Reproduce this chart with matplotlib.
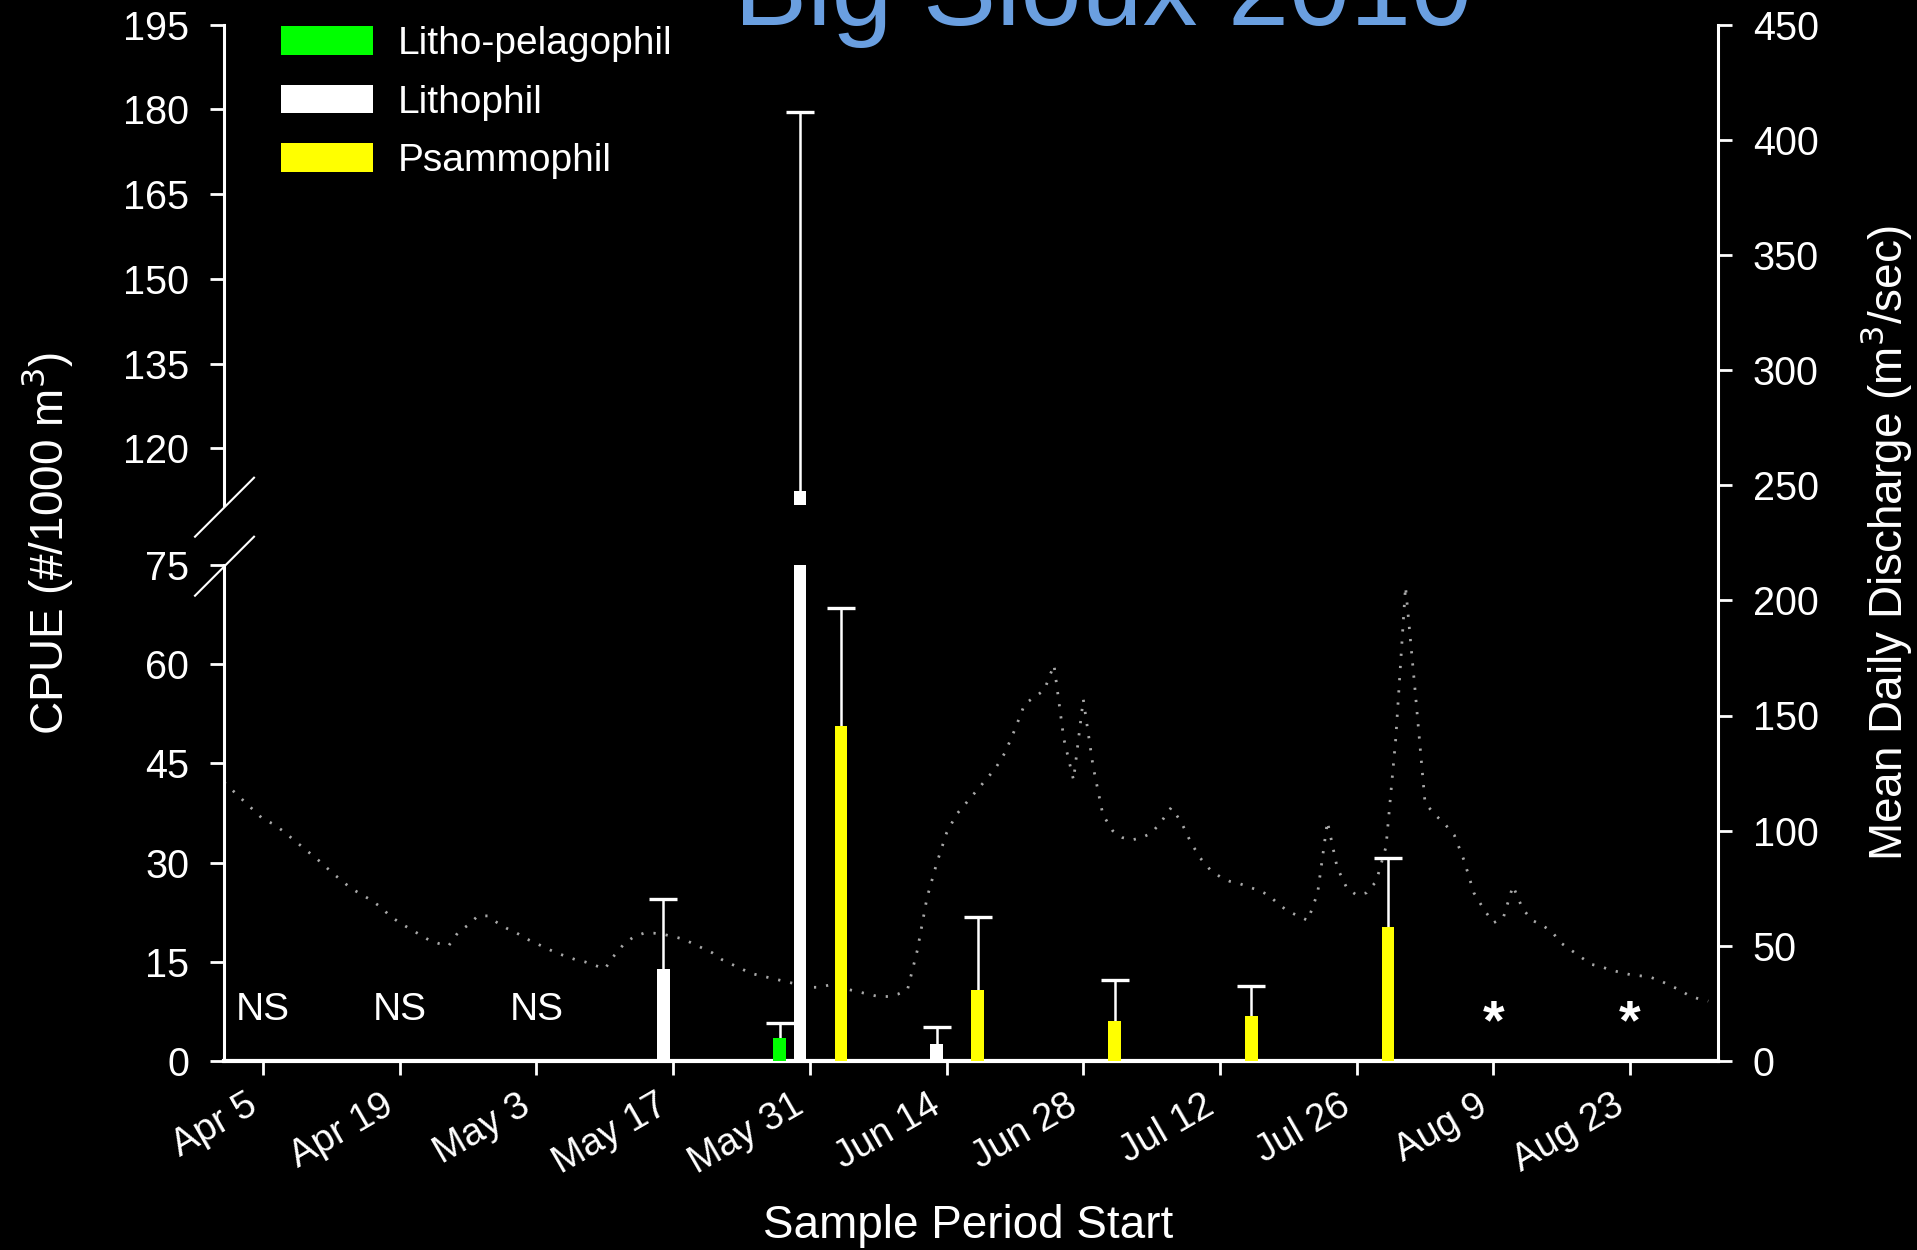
import datetime as dt

import numpy as np
import matplotlib
matplotlib.use("Agg")
import matplotlib.pyplot as plt
from matplotlib.lines import Line2D
from matplotlib.patches import Patch

plt.rcParams["font.family"] = ["Liberation Sans", "DejaVu Sans"]

# ---- data -----------------------------------------------------------------
period_starts = ["2010-04-05", "2010-04-19", "2010-05-03", "2010-05-17",
                 "2010-05-31", "2010-06-14", "2010-06-28", "2010-07-12",
                 "2010-07-26", "2010-08-09", "2010-08-23"]
period_labels = ["Apr 5", "Apr 19", "May 3", "May 17", "May 31", "Jun 14",
                 "Jun 28", "Jul 12", "Jul 26", "Aug 9", "Aug 23"]
period_notes = ["NS", "NS", "NS", "", "", "", "", "", "", "*", "*"]

guilds = ["Litho-pelagophil", "Lithophil", "Psammophil"]
guild_colors = ["#00FF00", "#FFFFFF", "#FFFF00"]
guild_offsets = [-3.1, -1.0, 3.2]          # days from period start

litho_pelagophil = [0, 0, 0, 0, 3.5, 0, 0, 0, 0, 0, 0]
litho_pelagophil_se = [0, 0, 0, 0, 2.3, 0, 0, 0, 0, 0, 0]
lithophil = [0, 0, 0, 13.9, 112.5, 2.6, 0, 0, 0, 0, 0]
lithophil_se = [0, 0, 0, 10.6, 67.0, 2.6, 0, 0, 0, 0, 0]
psammophil = [0, 0, 0, 0, 50.7, 10.7, 6.0, 6.8, 20.3, 0, 0]
psammophil_se = [0, 0, 0, 0, 17.8, 11.1, 6.2, 4.6, 10.4, 0, 0]

# mean daily discharge (m3/sec), 1 Apr - 31 Aug 2010
discharge_start = "2010-04-01"
discharge = [
    # April
    121, 117, 113, 109, 105, 103, 100, 96.5, 93, 89.5, 86, 82, 78.5, 75, 72.5,
    70, 67, 63, 60, 57.5, 55, 52.5, 51, 50, 56, 59, 63, 63, 60, 57.5,
    # May
    55.5, 53, 51, 49, 47, 45.5, 44, 43, 41.5, 40, 46, 51, 54, 55.5, 55.5,
    55, 54, 53, 51, 49, 47, 44, 42, 40, 38, 37, 36, 35, 34, 33, 32,
    # June
    32, 33, 32, 31, 30, 29, 28, 28, 29, 31, 48, 71, 86, 99, 107,
    112, 117, 122, 127, 134, 144, 155, 158, 161, 172, 140, 122, 157, 128, 107,
    # July
    100, 97, 96, 97, 99, 104, 110, 104, 95, 88, 83, 80, 78, 77, 75.5,
    74, 72, 68, 65, 63, 61, 73, 104, 84, 75, 72, 73, 78, 93, 140, 206,
    # August
    160, 112, 107, 103, 98, 87, 73, 66, 60, 62, 76, 66, 61, 59, 56,
    51, 48, 45, 42, 41, 39.5, 38.5, 37.5, 37, 36.5, 35, 33, 31, 28.5, 27, 26,
]

# ---- figure layout ----------------------------------------------------------
W, H = 1917, 1250
fig = plt.figure(figsize=(W / 100, H / 100), dpi=100, facecolor="black")


def fx(px):
    return px / W


def fy(py):
    return 1 - py / H


left, right = 224, 1718
ax_r = fig.add_axes([fx(left), fy(1061), fx(right) - fx(left), fy(24.5) - fy(1061)])
ax_bot = fig.add_axes([fx(left), fy(1061), fx(right) - fx(left), fy(565) - fy(1061)])
ax_top = fig.add_axes([fx(left), fy(505), fx(right) - fx(left), fy(24.5) - fy(505)])
ax_r.set_facecolor("black")
ax_bot.set_facecolor("none")
ax_top.set_facecolor("none")

starts = [dt.datetime.strptime(s, "%Y-%m-%d") for s in period_starts]
xmin, xmax = dt.datetime(2010, 4, 1), dt.datetime(2010, 9, 1)
for ax in (ax_r, ax_bot, ax_top):
    ax.set_xlim(xmin, xmax)

# ---- discharge line ---------------------------------------------------------
d0 = dt.datetime.strptime(discharge_start, "%Y-%m-%d")
q_dates = [d0 + dt.timedelta(days=i) for i in range(len(discharge))]
ax_r.plot(q_dates, discharge, color="#a8a8a8", lw=2.0,
          linestyle=(0, (0.8, 3.6)))
ax_r.set_ylim(0, 450)
ax_r.set_yticks(range(0, 451, 50))
ax_r.yaxis.tick_right()
ax_r.yaxis.set_label_position("right")
ax_r.set_xticks([])
for s in ("left", "top", "bottom"):
    ax_r.spines[s].set_visible(False)
ax_r.spines["right"].set_color("white")
ax_r.spines["right"].set_linewidth(2.2)
ax_r.tick_params(axis="y", colors="white", direction="out", length=10,
                 width=2, labelsize=28.5, pad=15)

# ---- CPUE bars (broken axis) ------------------------------------------------
series = [(litho_pelagophil, litho_pelagophil_se),
          (lithophil, lithophil_se),
          (psammophil, psammophil_se)]
for ax in (ax_bot, ax_top):
    for (vals, se), col, off in zip(series, guild_colors, guild_offsets):
        xs, ys, es = [], [], []
        for s, v, e in zip(starts, vals, se):
            if v > 0:
                xs.append(s + dt.timedelta(days=off))
                ys.append(v)
                es.append(e)
        _, caps, _ = ax.errorbar(xs, ys, yerr=[np.zeros(len(es)), es],
                                 fmt="none", ecolor="white", elinewidth=1.8,
                                 capsize=10.4, capthick=2.4, zorder=2)
        caps[0].set_visible(False)          # upper error only
        ax.bar(xs, ys, width=1.3, color=col, zorder=3)

ax_bot.set_ylim(0, 75)
ax_bot.set_yticks(range(0, 76, 15))
ax_top.set_ylim(110, 195)
ax_top.set_yticks(range(120, 196, 15))

for ax in (ax_bot, ax_top):
    ax.spines["top"].set_visible(False)
    ax.spines["right"].set_visible(False)
    ax.spines["left"].set_color("white")
    ax.spines["left"].set_linewidth(2.2)
    ax.tick_params(axis="y", colors="white", direction="out", length=10,
                   width=2, labelsize=28.5, pad=15)
ax_top.spines["bottom"].set_visible(False)
ax_top.set_xticks([])
ax_bot.spines["bottom"].set_color("white")
ax_bot.spines["bottom"].set_linewidth(3)
ax_bot.set_xticks(starts)
ax_bot.set_xticklabels(period_labels, rotation=30, ha="right")
ax_bot.tick_params(axis="x", colors="white", direction="out", length=10,
                   width=2, labelsize=27.5, pad=9)

# not-sampled / no-data markers
for s, note in zip(starts, period_notes):
    if note == "NS":
        ax_bot.text(s, 6.2, note, color="white", fontsize=28, ha="center",
                    va="baseline")
    elif note == "*":
        ax_bot.text(s, 3.5, note, color="white", fontsize=40,
                    fontweight="bold", ha="center", va="baseline")

# axis-break slashes on the left spine
for y0 in (536.7, 595.7):
    fig.add_artist(Line2D([fx(195), fx(254)], [fy(y0), fy(y0 - 59)],
                          color="white", lw=1.5, transform=fig.transFigure))

# ---- legend -----------------------------------------------------------------
handles = [Patch(facecolor=c, edgecolor="none") for c in guild_colors]
fig.legend(handles, guilds, loc="upper left",
           bbox_to_anchor=(fx(281), fy(26)), bbox_transform=fig.transFigure,
           frameon=False, fontsize=28, labelcolor="white",
           handlelength=2.37, handleheight=0.76, handletextpad=0.64,
           labelspacing=0.58, borderpad=0, borderaxespad=0)

# ---- text -------------------------------------------------------------------
fig.text(fx(1103), fy(25), "Big Sioux 2010", color="#6A9FE0", fontsize=79,
         ha="center", va="baseline")
fig.text(fx(47), fy(543), "CPUE (#/1000 m$^3$)", color="white", fontsize=33,
         rotation=90, ha="center", va="center")
fig.text(fx(1886), fy(543), "Mean Daily Discharge (m$^3$/sec)", color="white",
         fontsize=33, rotation=90, ha="center", va="center")
fig.text(fx(968), fy(1238), "Sample Period Start", color="white", fontsize=33,
         ha="center", va="baseline")

fig.savefig("out.png", dpi=100, facecolor="black")
